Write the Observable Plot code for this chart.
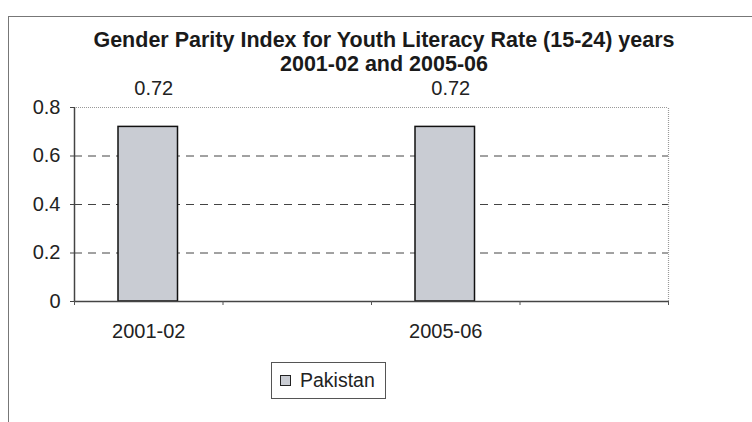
<!DOCTYPE html>
<html>
<head>
<meta charset="utf-8">
<script src="https://cdn.jsdelivr.net/npm/d3@7"></script>
<script src="https://cdn.jsdelivr.net/npm/@observablehq/plot@0.6"></script>
<style>
  html, body { margin: 0; padding: 0; background: #fff; }
  body { width: 752px; height: 422px; overflow: hidden; position: relative;
         font-family: "Liberation Sans", Arial, sans-serif; color: #222; }
  #frame { position: absolute; left: 8px; top: 16px; width: 800px; height: 420px;
           border-left: 1.5px solid #777; border-top: 1.5px solid #777; box-sizing: border-box; }
  #title { position: absolute; left: 0; top: 28px; width: 768px; text-align: center;
           font-weight: bold; font-size: 21.5px; line-height: 24px; color: #1a1a1a; }
  #chart { position: absolute; left: 0; top: 76px; }
  #legend { position: absolute; left: 271px; top: 362px; width: 115px; height: 37px;
            border: 1px solid #555; box-sizing: border-box; font-size: 19.5px;
            display: flex; align-items: center; padding-left: 8px; color: #222; }
  #legend .sw { width: 9px; height: 9px; border: 1.5px solid #222; background: #c9ccd3;
                margin-right: 9px; }
</style>
</head>
<body>
<div id="frame"></div>
<div id="title"></div>
<div id="chart"></div>
<div id="legend"></div>
<script>
const titleLines = ["Gender Parity Index for Youth Literacy Rate (15-24) years", "2001-02 and 2005-06"];
const categories = ["2001-02", "", "2005-06", ""];
const values = [0.72, null, 0.72, null];
const seriesName = "Pakistan";
const yTicks = [0, 0.2, 0.4, 0.6, 0.8];
const gridValues = [0.2, 0.4, 0.6];

const data = categories.map((c, i) => ({i, period: c, value: values[i]}));
const bars = data.filter(d => d.value != null);
const labelled = data.filter(d => d.period !== "");

document.getElementById("title").innerHTML = titleLines.join("<br>");
document.getElementById("legend").innerHTML = `<span class="sw"></span><span>${seriesName}</span>`;

const chart = Plot.plot({
  width: 752,
  height: 270,
  marginLeft: 74,
  marginRight: 84,
  marginTop: 31,
  marginBottom: 45,
  style: {fontFamily: "Liberation Sans, Arial, sans-serif", color: "#222", background: "transparent"},
  x: {type: "linear", domain: [0, categories.length], axis: null},
  y: {domain: [0, 0.8], axis: null},
  marks: [
    Plot.ruleY(gridValues, {stroke: "#444", strokeWidth: 1, strokeDasharray: "8,6"}),
    Plot.ruleY([0.8], {stroke: "#999", strokeWidth: 1.2, strokeDasharray: "1,1"}),
    Plot.ruleX([categories.length], {y1: 0, y2: 0.8, stroke: "#999", strokeWidth: 1.2, strokeDasharray: "1,1"}),
    Plot.rectY(bars, {x1: d => d.i, x2: d => d.i + 1, y: "value", insetLeft: 44, insetRight: 45,
                      fill: "#c9ccd3", stroke: "#111", strokeWidth: 1.5}),
    Plot.ruleY([0], {stroke: "#444", strokeWidth: 1.5}),
    Plot.ruleX([0], {y1: 0, y2: 0.8, stroke: "#444", strokeWidth: 1.5}),
    Plot.axisY({ticks: yTicks, tickSize: 4, tickPadding: 10, fontSize: 20, label: null,
                tickFormat: d => d === 0 ? "0" : d3.format(".1f")(d), stroke: "#444"}),
    Plot.axisX({ticks: d3.range(0, categories.length + 1), tickSize: 4, tickFormat: () => "", label: null, stroke: "#555"}),
    Plot.text(labelled, {x: d => d.i + 0.5, y: 0, text: "period", dy: 30, fontSize: 20, fill: "#222"}),
    Plot.text(bars, {x: d => d.i + 0.5, y: "value", text: d => d3.format(".2f")(d.value), dy: -38, dx: 5, fontSize: 20, fill: "#222"})
  ]
});
document.getElementById("chart").appendChild(chart);
</script>
</body>
</html>
